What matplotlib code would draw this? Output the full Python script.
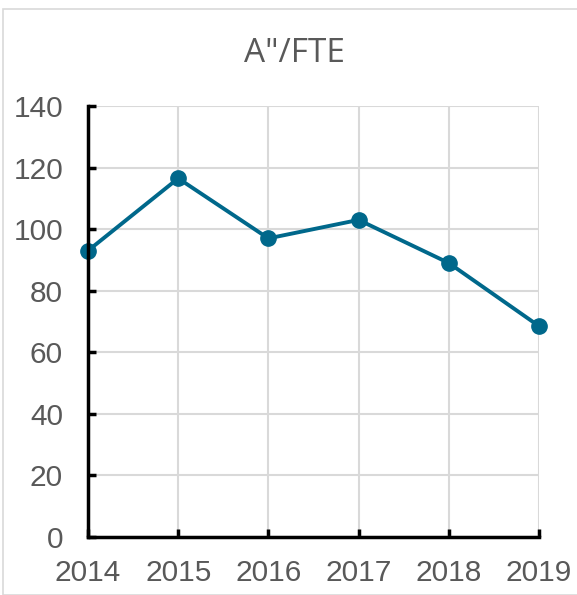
import matplotlib
matplotlib.use("Agg")
import matplotlib.pyplot as plt
from matplotlib.patches import Rectangle

years = [2014, 2015, 2016, 2017, 2018, 2019]
values = [93, 116.5, 97, 103, 89, 68.5]
yticks = [0, 20, 40, 60, 80, 100, 120, 140]
title = 'A"/FTE'

W, H = 577, 595
fig = plt.figure(figsize=(W / 100, H / 100), dpi=100)
fig.patches.append(Rectangle((3 / W, 0), 1.2, 1 - 9 / H, transform=fig.transFigure,
                             fill=False, edgecolor="#d9d9d9", linewidth=1.2))

ax = fig.add_axes([88 / W, 1 - 537 / H, (539 - 88) / W, (537 - 106) / H])
ax.plot(years, values, color="#00688B", linewidth=2.8, marker="o", markersize=11,
        clip_on=False, zorder=3)
ax.set_xlim(2014, 2019)
ax.set_ylim(0, 140)
ax.set_xticks(years)
ax.set_yticks(yticks)
ax.grid(True, color="#d9d9d9", linewidth=1.5)
ax.set_axisbelow(True)
for s in ["top", "right"]:
    ax.spines[s].set_visible(False)
for s in ["left", "bottom"]:
    ax.spines[s].set_linewidth(2.5)
    ax.spines[s].set_color("black")
    ax.spines[s].set_zorder(4)
ax.tick_params(axis="both", direction="in", length=6, width=2.5, color="black",
               labelsize=21.5, labelcolor="#595959")
ax.tick_params(axis="y", pad=18)
ax.tick_params(axis="x", pad=16)
for lab in ax.get_xticklabels() + ax.get_yticklabels():
    lab.set_fontfamily("Liberation Sans")

fig.text(294 / W, 1 - 54 / H, title, ha="center", va="center", fontsize=24,
         color="#595959", family="Open Sans")

fig.savefig("out.png", dpi=100)
